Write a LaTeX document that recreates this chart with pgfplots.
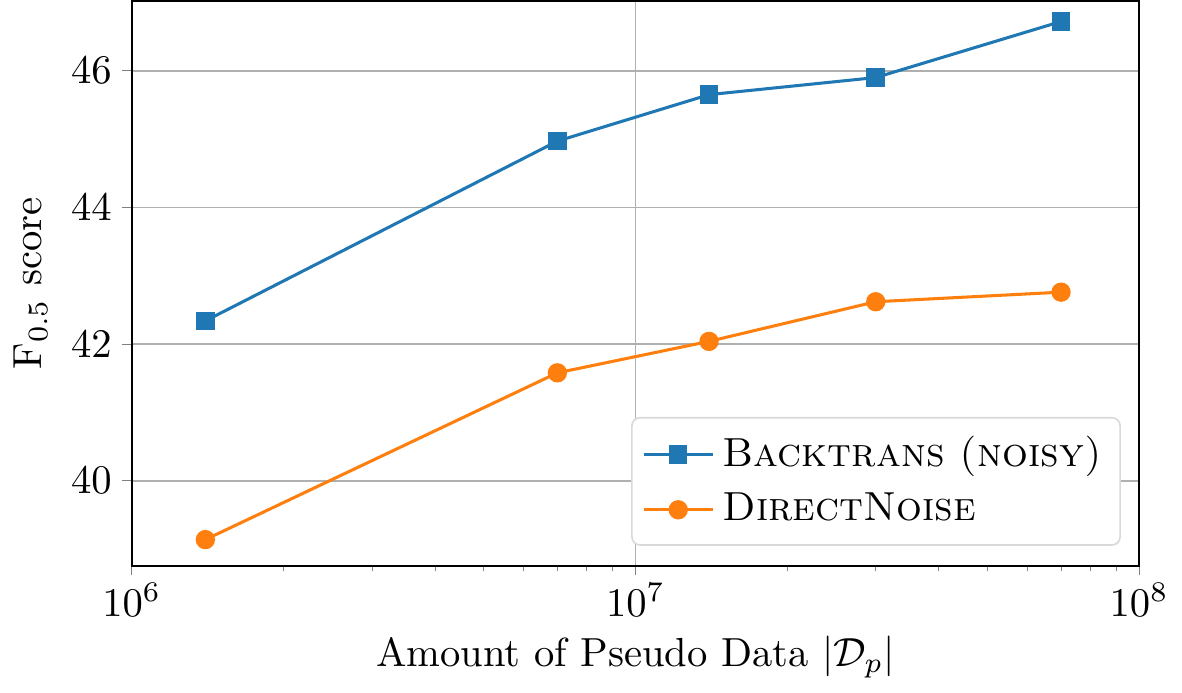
\documentclass[border=0pt]{standalone}
\usepackage{pgfplots}
\pgfplotsset{compat=1.18}
\definecolor{mplblue}{HTML}{1F77B4}
\definecolor{mplorange}{HTML}{FF7F0E}
\begin{document}
\begin{tikzpicture}
\begin{axis}[
  xmode=log,
  scale only axis,
  width=248pt, height=139pt,
  xmin=1e6, xmax=1e8,
  ymin=38.76, ymax=47.02,
  ytick={40,42,44,46},
  xtick={1e6,1e7,1e8},
  minor xtick={2e6,3e6,4e6,5e6,6e6,7e6,8e6,9e6,2e7,3e7,4e7,5e7,6e7,7e7,8e7,9e7},
  log basis x=10,
  tick align=outside,
  major tick length=2.4pt,
  minor tick length=1.4pt,
  xtick pos=bottom, ytick pos=left,
  xmajorgrids, ymajorgrids, xminorgrids=false,
  major grid style={color=black!31, line width=0.4pt},
  axis line style={line width=0.5pt},
  xticklabel style={yshift=1.5pt},
  yticklabel style={xshift=1pt},
  xlabel={Amount of Pseudo Data $|\mathcal{D}_p|$},
  ylabel={F$_{0.5}$ score},
  xlabel style={yshift=2pt},
  ylabel style={yshift=-1pt},
  legend cell align=left,
  legend style={draw=black!15, rounded corners=2pt, fill=white,
    at={(0.982,0.035)}, anchor=south east, inner sep=2.5pt, row sep=1pt},
  legend image code/.code={
    \draw[mark repeat=2,mark phase=2] plot coordinates {(0cm,0cm) (0.3cm,0cm) (0.6cm,0cm)};
  },
]
\addplot[mplblue, line width=0.75pt, mark=square*, mark size=1.9pt, mark options={solid}]
coordinates {(1.4e6,42.34) (7e6,44.97) (1.4e7,45.65) (3e7,45.90) (7e7,46.72)};
\addlegendentry{\textsc{Backtrans (noisy)}}
\addplot[mplorange, line width=0.75pt, mark=*, mark size=2pt]
coordinates {(1.4e6,39.14) (7e6,41.58) (1.4e7,42.04) (3e7,42.62) (7e7,42.76)};
\addlegendentry{\textsc{DirectNoise}}
\end{axis}
\end{tikzpicture}
\end{document}
